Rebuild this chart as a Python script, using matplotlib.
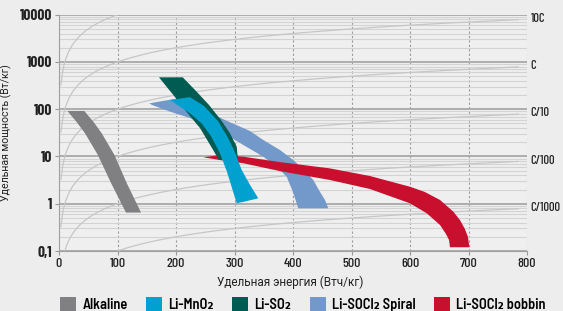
import matplotlib
matplotlib.use("Agg")
import matplotlib.pyplot as plt
import matplotlib.transforms as mtransforms
from matplotlib.patches import Patch
from matplotlib.ticker import FixedLocator, LogLocator, NullFormatter
import numpy as np

# band outlines: energy (Wh/kg) and power (W/kg)
alk_left_e = [14.2, 29.9, 44.4, 66.2, 88.9, 114.5]
alk_left_p = [92, 54, 31, 10.9, 2.75, 0.65]
alk_right_e = [43.2, 59, 73, 94.5, 115.7, 140.2]
alk_right_p = [92, 54, 31, 10.9, 2.75, 0.65]

mno2_left_e = [189.7, 206.8, 225.6, 243.9, 259.8, 275.2, 287.2, 295.7, 303.8]
mno2_left_p = [157, 113, 79, 50, 27, 11.7, 4.7, 2.15, 1.02]
mno2_right_e = [223.9, 247.9, 271.8, 287.2, 299.1, 312.3, 326.5, 340.7]
mno2_right_p = [180, 117, 56, 27, 13.7, 5.2, 2.5, 1.30]

so2_left_e = [170.9, 182.9, 195.4, 215.4, 241, 261.5, 273.5]
so2_left_p = [473, 310, 200, 96, 40, 15.1, 8.4]
so2_right_e = [211.5, 234.2, 256.4, 276.9, 292.3, 303.8, 306]
so2_right_p = [473, 243, 123, 59, 31, 16.1, 8.4]

spiral_upper_e = [154.4, 172.6, 198.3, 241, 283.8, 326.5, 349.2, 377.8, 400.5, 418.8, 434.7, 446.2, 454.7, 460.3]
spiral_upper_p = [133, 146, 165, 106, 59, 34.6, 22.3, 13.7, 8.4, 5.2, 3.18, 1.77, 1.20, 0.80]
spiral_lower_e = [159, 189.7, 223.9, 258.1, 292.3, 317.9, 349.2, 370.9, 389.2, 400, 409]
spiral_lower_p = [123, 89, 65, 42, 25.8, 16.7, 9.9, 6.3, 3.73, 1.77, 0.80]

bobbin_upper_e = [246.7, 275.2, 315, 377.8, 463.2, 531.6, 600, 625.6, 651.3, 674, 685.5, 694, 699.1, 701.4]
bobbin_upper_p = [9.6, 10.7, 9.9, 7.6, 5.6, 3.86, 2.29, 1.77, 1.20, 0.68, 0.45, 0.29, 0.198, 0.120]
bobbin_lower_e = [246.7, 275.2, 315, 377.8, 463.2, 531.6, 600, 628.5, 651.3, 661.5, 666.7, 668.4]
bobbin_lower_p = [9.6, 8.4, 7.2, 4.9, 3.18, 2.05, 1.02, 0.63, 0.355, 0.229, 0.171, 0.120]

rates = [100, 10, 1, 0.1, 0.01, 0.001]
rate_labels = ["", "10C", "C", "C/10", "C/100", "C/1000"]

y_ticks = [0.1, 1, 10, 100, 1000, 10000]
y_tick_labels = ["0,1", "1", "10", "100", "1000", "10000"]
x_ticks = [0, 100, 200, 300, 400, 500, 600, 700, 800]

names = ["Alkaline", "Li-MnO\u2082", "Li-SO\u2082", "Li-SOCl\u2082 Spiral", "Li-SOCl\u2082 bobbin"]
colors = ["#808083", "#00a0cf", "#005c52", "#7299c9", "#c8102e"]

narrow = ["Barlow Condensed", "DejaVu Sans"]
semi = ["Barlow Semi Condensed", "DejaVu Sans"]
cyr = ["Roboto", "DejaVu Sans"]

fig = plt.figure(figsize=(5.63, 3.11), dpi=100, facecolor="#ededed")
ax = fig.add_axes([59 / 563, 1 - 251 / 311, 468 / 563, (251 - 14.7) / 311])
ax.set_facecolor("#efefef")
ax.set_yscale("log")
ax.set_xlim(0, 800)
ax.set_ylim(0.1, 10000)

# grid
ax.yaxis.set_major_locator(FixedLocator(y_ticks))
ax.yaxis.set_minor_locator(LogLocator(base=10, subs=range(2, 10)))
ax.yaxis.set_minor_formatter(NullFormatter())
ax.xaxis.set_major_locator(FixedLocator(x_ticks))
ax.set_axisbelow(True)
ax.grid(which="minor", axis="y", color="#d3d3d3", lw=0.8)
ax.grid(which="major", axis="y", color="#a8a8a8", lw=1.3)
ax.grid(which="major", axis="x", color="#9a9a9a", lw=0.8, ls=(0, (2, 2)))
ax.tick_params(which="minor", length=0)
ax.tick_params(which="major", length=3, width=0.8, color="#999999", pad=2)
for s in ["top", "right"]:
    ax.spines[s].set_visible(False)
for s in ["left", "bottom"]:
    ax.spines[s].set_color("#a0a0a0")

ax.set_yticklabels(y_tick_labels, family=narrow, weight="bold", fontsize=11, color="#222222")
ax.set_xticklabels([str(v) for v in x_ticks], family=narrow, weight="medium", fontsize=10, color="#222222")

# constant-rate lines
e_line = np.linspace(3.3, 785, 300)
trans = mtransforms.blended_transform_factory(ax.transAxes, ax.transData)
for r, lab in zip(rates, rate_labels):
    ax.plot(e_line, r * e_line, color="#c6c6c6", lw=0.9, zorder=1)
    if lab:
        ax.text(1.008, r * 820, lab, transform=trans, va="center", ha="left",
                family=narrow, weight="medium", fontsize=9, color="#222222", clip_on=False)


def band(e1, p1, e2, p2, color):
    ax.fill(list(e1) + list(e2)[::-1], list(p1) + list(p2)[::-1],
            color=color, lw=0, zorder=3)


band(alk_left_e, alk_left_p, alk_right_e, alk_right_p, colors[0])
band(spiral_upper_e, spiral_upper_p, spiral_lower_e, spiral_lower_p, colors[3])
band(bobbin_upper_e, bobbin_upper_p, bobbin_lower_e, bobbin_lower_p, colors[4])
band(so2_left_e, so2_left_p, so2_right_e, so2_right_p, colors[2])
band(mno2_left_e, mno2_left_p, mno2_right_e, mno2_right_p, colors[1])

ax.set_xlabel("Удельная энергия (Втч/кг)", family=cyr, fontsize=8.5, color="#222222")
ax.set_ylabel("Удельная мощность (Вт/кг)", family=cyr, fontsize=7.6, color="#222222")
ax.xaxis.set_label_coords(0.4936, -0.104)
ax.yaxis.set_label_coords(-0.100, 0.5)

handles = [Patch(facecolor=c, edgecolor="none") for c in colors]
fig.legend(handles, names, loc="lower left", bbox_to_anchor=(53 / 563, -8 / 311),
           ncol=5, frameon=False, borderpad=0, handlelength=1.08, handleheight=1.08,
           handletextpad=0.45, columnspacing=1.28,
           prop={"family": semi, "weight": "semibold", "size": 10.4})

fig.savefig("out.png", dpi=100, facecolor=fig.get_facecolor())
